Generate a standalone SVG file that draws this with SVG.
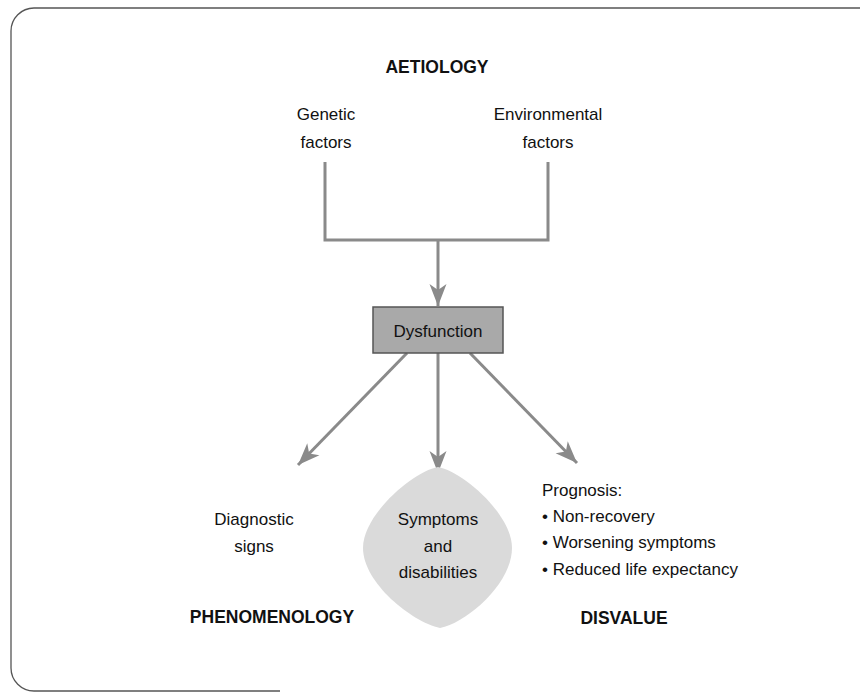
<svg xmlns="http://www.w3.org/2000/svg" width="862" height="692" viewBox="0 0 862 692">
<defs>
<style>
.t{font-family:"Liberation Sans",Arial,sans-serif;font-size:17px;fill:#111;text-anchor:middle}
.b{font-weight:bold;font-size:17.5px}
.l{text-anchor:start}
.ln{fill:none;stroke:#8a8a8a;stroke-width:3}
</style>
<marker id="ah" viewBox="-23 -9 25 18" refX="0" refY="0" markerWidth="25" markerHeight="18" markerUnits="userSpaceOnUse" orient="auto">
<path d="M0,0 L-22,-8.5 L-16,0 L-22,8.5 Z" fill="#8a8a8a"/>
</marker>
</defs>
<rect width="862" height="692" fill="#fff"/>
<path d="M860,8 H34 A23,23 0 0 0 11,31 V668 A23,23 0 0 0 34,691 H280" fill="none" stroke="#555" stroke-width="1.3"/>

<g id="connectors">
<path class="ln" d="M325,162 V240 H548 V162"/>
<path class="ln" d="M438,240 V306" marker-end="url(#ah)"/>
<path class="ln" d="M407,353 L298,465" marker-end="url(#ah)"/>
<path class="ln" d="M438,353 L438,473" marker-end="url(#ah)"/>
<path class="ln" d="M470,353 L577,463" marker-end="url(#ah)"/>
</g>

<g id="aetiology"><text class="t b" x="437" y="73">AETIOLOGY</text></g>
<g id="genetic"><text class="t" x="326" y="120">Genetic</text><text class="t" x="326" y="148">factors</text></g>
<g id="environmental"><text class="t" x="548" y="120">Environmental</text><text class="t" x="548" y="148">factors</text></g>

<g id="dysfunction">
<rect x="373" y="307" width="130" height="46" fill="#a9a9a9" stroke="#555" stroke-width="1.5"/>
<text class="t" x="438" y="337">Dysfunction</text>
</g>

<g id="diagnostic"><text class="t" x="254" y="525">Diagnostic</text><text class="t" x="254" y="552">signs</text></g>

<g id="symptoms">
<path d="M438,467 C462,471 512,514 512,548 C512,583 468,622 440,628 C412,622 363,583 363,548 C363,514 414,471 438,467 Z" fill="#dadada"/>
<text class="t" x="438" y="525">Symptoms</text>
<text class="t" x="438" y="552">and</text>
<text class="t" x="438" y="578">disabilities</text>
</g>

<g id="prognosis">
<text class="t l" x="542" y="496">Prognosis:</text>
<text class="t l" x="542" y="522">• Non-recovery</text>
<text class="t l" x="542" y="548">• Worsening symptoms</text>
<text class="t l" x="542" y="575">• Reduced life expectancy</text>
</g>

<g id="phenomenology"><text class="t b" x="272" y="623">PHENOMENOLOGY</text></g>
<g id="disvalue"><text class="t b" x="624" y="624">DISVALUE</text></g>
</svg>
